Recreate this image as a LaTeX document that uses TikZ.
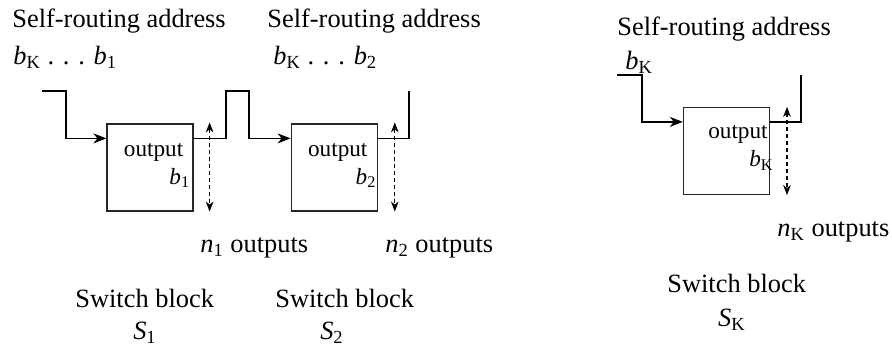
\documentclass[tikz,border=0pt]{standalone}
\usepackage{fontspec}
\setmainfont{Liberation Serif}
\usepackage{tikz}
\usetikzlibrary{arrows.meta, positioning, calc}
\newcommand{\sub}[2]{\textit{#1}\textsubscript{#2}}
\tikzset{
    switchbox/.style={
        rectangle, draw=black!85, line width=0.6pt,
        minimum width=43pt, minimum height=43.5pt, inner sep=0pt
    },
    txtlab/.style={
        font=\fontsize{13.2}{15}\selectfont, inner sep=0pt, anchor=base west
    },
    boxlab/.style={
        font=\fontsize{11.6}{13}\selectfont, inner sep=0pt, anchor=base east
    },
    routeline/.style={
        -{Stealth[length=6.5pt, width=5pt, inset=2pt]}, line width=0.65pt
    },
    wireline/.style={
        line width=0.65pt
    },
    outarrow/.style={
        {Stealth[length=5pt, width=3.8pt, inset=1.5pt]}-{Stealth[length=5pt, width=3.8pt, inset=1.5pt]},
        line width=0.55pt, dash pattern=on 2pt off 1.5pt
    },
}

\begin{document}
\begin{tikzpicture}[x=0.5pt, y=0.5pt]
    \useasboundingbox (0,0) rectangle (892,352);

    % Switch blocks
    \node[switchbox] (sb1) at (150,184.5) {};
    \node[switchbox, right=48.5pt of sb1] (sb2) {};
    \node[switchbox, right=152.5pt of sb2, yshift=8.25pt] (sb3) {};

    % Inside labels
    \node[boxlab] (o1) at ($(sb1.north east)+(-10,-33)$) {output};
    \node[boxlab] (ob1) at ($(sb1.north east)+(-3,-61)$) {\sub{b}{1}};
    \node[boxlab] (o2) at ($(sb2.north east)+(-10,-33)$) {output};
    \node[boxlab] (ob2) at ($(sb2.north east)+(-1,-61)$) {\sub{b}{2}};
    \node[boxlab] (o3) at ($(sb3.north east)+(-2,-32)$) {output};
    \node[boxlab] (ob3) at ($(sb3.north east)+(4,-60)$) {\sub{b}{K}};

    % Attach points and bends
    \coordinate (in1) at ($(sb1.north west)+(0,-15)$);
    \coordinate (out1) at ($(sb1.north east)+(0,-15)$);
    \coordinate (in2) at ($(sb2.north west)+(0,-15)$);
    \coordinate (out2) at ($(sb2.north east)+(0,-15)$);
    \coordinate (in3) at ($(sb3.north west)+(0,-15)$);
    \coordinate (out3) at ($(sb3.north east)+(0,-15)$);
    \coordinate (start1) at (42,261);
    \coordinate (bend1) at (66,261);
    \coordinate (hop1a) at (226,261);
    \coordinate (hop1b) at (249,261);
    \coordinate (end2) at (409,261);
    \coordinate (start3) at (617,277);
    \coordinate (bend3) at (642,277);
    \coordinate (end3) at (801,277);

    % Routing path
    \draw[routeline] (start1) -- (bend1) |- (in1);
    \draw[routeline] (out1) -| (hop1a) -- (hop1b) |- (in2);
    \draw[wireline] (out2) -| (end2);
    \draw[routeline] (start3) -- (bend3) |- (in3);
    \draw[wireline] (out3) -| (end3);

    % Outputs
    \coordinate (d1t) at ($(sb1.north east)+(16,1)$);
    \coordinate (d1b) at ($(sb1.south east)+(16,0)$);
    \coordinate (d2t) at ($(sb2.north east)+(17,1)$);
    \coordinate (d2b) at ($(sb2.south east)+(17,0)$);
    \coordinate (d3t) at ($(sb3.north east)+(17,0)$);
    \coordinate (d3b) at ($(sb3.south east)+(17,0)$);
    \draw[outarrow] (d1t) -- (d1b);
    \draw[outarrow] (d2t) -- (d2b);
    \draw[outarrow] (d3t) -- (d3b);

    % Labels
    \node[txtlab] (t1) at (12,324) {Self-routing address};
    \node[txtlab] (a1) at (13,287) {\sub{b}{K} . . . \sub{b}{1}};
    \node[txtlab] (t2) at (267,324) {Self-routing address};
    \node[txtlab] (a2) at (273,287) {\sub{b}{K} . . . \sub{b}{2}};
    \node[txtlab] (t3) at (617,316) {Self-routing address};
    \node[txtlab] (a3) at (625,282) {\sub{b}{K}};

    \node[txtlab] (n1) at (200,99) {\sub{n}{1} outputs};
    \node[txtlab] (n2) at (385,99) {\sub{n}{2} outputs};
    \node[txtlab] (n3) at (777,115) {\sub{n}{K} outputs};

    \node[txtlab] (sw1) at (75,44) {Switch block};
    \node[txtlab, anchor=base] (s1) at (145,12) {\sub{S}{1}};
    \node[txtlab] (sw2) at (275,44) {Switch block};
    \node[txtlab, anchor=base] (s2) at (332,12) {\sub{S}{2}};
    \node[txtlab] (sw3) at (667,59) {Switch block};
    \node[txtlab, anchor=base] (s3) at (732,25) {\sub{S}{K}};

\end{tikzpicture}
\end{document}
